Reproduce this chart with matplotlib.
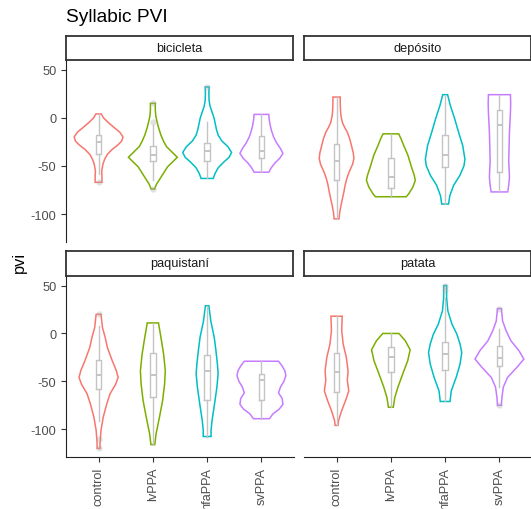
import numpy as np
import matplotlib.pyplot as plt

plt.rcParams['font.family'] = ['Liberation Sans', 'DejaVu Sans']
plt.rcParams['axes.unicode_minus'] = False

groups = ["control", "lvPPA", "nfaPPA", "svPPA"]
words = ["bicicleta", "depósito", "paquistaní", "patata"]
colors = ["#F8766D", "#7CAE00", "#00BFC4", "#C77CFF"]

# violin outlines: pvi levels and relative half-width at each level
bicicleta_levels = [
    [4, 0, -5, -10, -15, -20, -24, -28, -33, -38, -43, -48, -55, -62, -67],
    [15, 8, 2, -4, -10, -18, -25, -30, -36, -41, -46, -51, -57, -63, -69, -74],
    [32, 25, 18, 12, 6, 0, -6, -12, -18, -24, -30, -36, -41, -46, -52, -58, -63],
    [3.5, -2, -8, -14, -20, -26, -32, -37, -42, -47, -52, -56.5],
]
bicicleta_widths = [
    [0.11, 0.2, 0.4, 0.63, 0.87, 1.0, 0.95, 0.8, 0.55, 0.36, 0.25, 0.18, 0.13, 0.14, 0.14],
    [0.1, 0.1, 0.12, 0.17, 0.23, 0.33, 0.45, 0.56, 0.8, 1.0, 0.8, 0.6, 0.45, 0.3, 0.15, 0.07],
    [0.08, 0.07, 0.08, 0.12, 0.2, 0.28, 0.33, 0.38, 0.45, 0.6, 0.85, 1.0, 0.9, 0.68, 0.45, 0.32, 0.25],
    [0.3, 0.32, 0.36, 0.42, 0.5, 0.62, 0.78, 0.88, 0.75, 0.55, 0.4, 0.3],
]
deposito_levels = [
    [21.5, 15, 8, 2, -5, -10, -15, -22, -30, -36, -42, -48, -56, -63, -70, -77, -84, -91, -98, -105],
    [-16.7, -22, -29, -39, -50, -60, -65, -72, -79, -82],
    [24, 13, -1, -15, -29, -43, -50, -60, -70, -81, -89.6],
    [24, 15, 5, -5, -15, -25, -35, -45, -55, -62, -70, -77],
]
deposito_widths = [
    [0.15, 0.15, 0.16, 0.18, 0.24, 0.33, 0.44, 0.54, 0.62, 0.68, 0.71, 0.66, 0.52, 0.42, 0.35, 0.3, 0.24, 0.18, 0.13, 0.1],
    [0.32, 0.42, 0.53, 0.7, 0.83, 0.96, 1.0, 0.9, 0.73, 0.63],
    [0.1, 0.21, 0.39, 0.55, 0.72, 0.81, 0.77, 0.6, 0.35, 0.19, 0.14],
    [0.45, 0.46, 0.45, 0.43, 0.41, 0.4, 0.39, 0.38, 0.4, 0.41, 0.38, 0.34],
]
paquistani_levels = [
    [20, 6, -4, -14.6, -28.5, -39, -46, -53, -63, -74, -87.5, -101, -115, -120],
    [11, -4, -21.5, -39, -53, -70, -87.5, -105, -116],
    [29, 13, -4, -18, -32, -42, -56, -74, -91, -101, -107.6],
    [-29, -34, -39, -44, -50, -56, -62, -68, -74, -79, -84, -89],
]
paquistani_widths = [
    [0.1, 0.16, 0.27, 0.36, 0.56, 0.73, 0.8, 0.7, 0.47, 0.33, 0.19, 0.1, 0.06, 0.06],
    [0.23, 0.33, 0.44, 0.51, 0.48, 0.4, 0.27, 0.13, 0.08],
    [0.07, 0.15, 0.29, 0.36, 0.42, 0.45, 0.4, 0.3, 0.2, 0.16, 0.16],
    [0.7, 0.85, 0.96, 1.0, 0.92, 0.78, 0.7, 0.85, 0.88, 0.73, 0.47, 0.33],
]
patata_levels = [
    [18, 3, -11, -25, -39, -49, -60, -70, -80.5, -91, -96],
    [0, -7.6, -17, -28.5, -42, -56, -67, -77],
    [50, 37.5, 23.6, 9.7, -0.7, -11, -20, -32, -46, -60, -71],
    [26, 13, 3, -7.6, -18, -26.7, -35, -46, -56, -67, -75],
]
patata_widths = [
    [0.23, 0.21, 0.27, 0.4, 0.47, 0.44, 0.5, 0.37, 0.21, 0.08, 0.06],
    [0.33, 0.59, 0.79, 0.69, 0.49, 0.29, 0.16, 0.1],
    [0.06, 0.06, 0.11, 0.28, 0.48, 0.61, 0.68, 0.61, 0.45, 0.25, 0.2],
    [0.08, 0.13, 0.27, 0.47, 0.8, 1.0, 0.73, 0.33, 0.16, 0.1, 0.08],
]

# boxplot summaries: whisker low, q1, median, q3, whisker high
bicicleta_box = [(-58, -37.5, -25, -18, 4), (-65, -45, -38.5, -29.5, -8),
                 (-63, -45, -34, -26, -4), (-56.5, -42, -35, -19, 3.5)]
deposito_box = [(-105, -64.5, -44.5, -27, 21.5), (-82, -73, -61, -42, -16.7),
                (-89.6, -51, -39, -18, 24), (-77, -56, -7, 8, 24)]
paquistani_box = [(-91, -58, -43, -27.4, 8), (-116, -66.7, -43.4, -20, 11),
                  (-107.6, -70, -39.6, -23, 29), (-89, -70, -48.6, -42.4, -29)]
patata_box = [(-96, -61, -40.6, -20, 18), (-77, -40.6, -25, -14.6, 0),
              (-71, -38, -21.5, -8.7, 37), (-56, -33.7, -25.7, -12.8, 4.5)]

bicicleta_out = [[-67], [-4, 15, -74], [32], []]
deposito_out = [[], [], [], []]
paquistani_out = [[20, -110, -120], [], [], []]
patata_out = [[], [], [50, 45], [26, -75]]

levels = [bicicleta_levels, deposito_levels, paquistani_levels, patata_levels]
widths = [bicicleta_widths, deposito_widths, paquistani_widths, patata_widths]
boxes = [bicicleta_box, deposito_box, paquistani_box, patata_box]
outs = [bicicleta_out, deposito_out, paquistani_out, patata_out]

W, H = 531, 510
fig = plt.figure(figsize=(W / 100, H / 100), dpi=100)


def px_axes(x0, y0, x1, y1):
    return fig.add_axes([x0 / W, 1 - y1 / H, (x1 - x0) / W, (y1 - y0) / H])


panels = [(66, 61, 294, 243, 37), (304, 61, 532, 243, 37),
          (66, 277, 294, 458, 252), (304, 277, 532, 458, 252)]

for k, (x0, y0, x1, y1, s0) in enumerate(panels):
    ax = px_axes(x0, y0, x1, y1)
    for i in range(4):
        yv = np.array(levels[k][i])
        hw = np.array(widths[k][i]) * 0.45
        xs = np.concatenate([i + 1 - hw, (i + 1 + hw)[::-1]])
        ys = np.concatenate([yv, yv[::-1]])
        ax.fill(xs, ys, facecolor="white", edgecolor=colors[i], lw=1.1, zorder=2)
        lo, q1, med, q3, hi = boxes[k][i]
        st = dict(whislo=lo, q1=q1, med=med, q3=q3, whishi=hi, fliers=outs[k][i])
        grey = "#C4C4C4"
        ax.bxp([st], positions=[i + 1], widths=0.1, showcaps=False,
               boxprops=dict(color=grey, lw=1.0),
               whiskerprops=dict(color=grey, lw=1.0),
               medianprops=dict(color=grey, lw=1.4),
               flierprops=dict(marker="o", markersize=4.5, markerfacecolor="#AAAAAA",
                               markeredgecolor="none", alpha=0.35),
               manage_ticks=False, zorder=3)
    ax.set_xlim(0.4, 4.6)
    ax.set_ylim(-129, 60)
    for s in ["top", "right"]:
        ax.spines[s].set_visible(False)
    ax.spines["left"].set_color("#222222")
    ax.spines["bottom"].set_color("#222222")
    ax.tick_params(colors="#333333", labelcolor="#4D4D4D", labelsize=9.2, length=3.5, width=0.8)
    ax.set_xticks([1, 2, 3, 4])
    ax.set_yticks([50, 0, -50, -100])
    if k % 2 == 1:
        ax.spines["left"].set_visible(False)
        ax.tick_params(axis="y", left=False, labelleft=False)
    if k < 2:
        ax.spines["bottom"].set_visible(False)
        ax.tick_params(axis="x", bottom=False, labelbottom=False)
    else:
        ax.set_xticklabels(groups, rotation=90, va="top", ha="center")

    sax = px_axes(x0, s0, x1 - 1, y0)
    sax.set_xticks([])
    sax.set_yticks([])
    for sp in sax.spines.values():
        sp.set_color("#333333")
        sp.set_linewidth(1.3)
    sax.text(0.5, 0.5, words[k], ha="center", va="center", fontsize=9.2, color="#1A1A1A",
             transform=sax.transAxes)

fig.text(66 / W, 1 - 18 / H, "Syllabic PVI", fontsize=13.8, va="center", ha="left")
fig.text(19 / W, 1 - 262 / H, "pvi", fontsize=11.8, rotation=90, va="center", ha="center")

fig.savefig("out.png", dpi=100)
